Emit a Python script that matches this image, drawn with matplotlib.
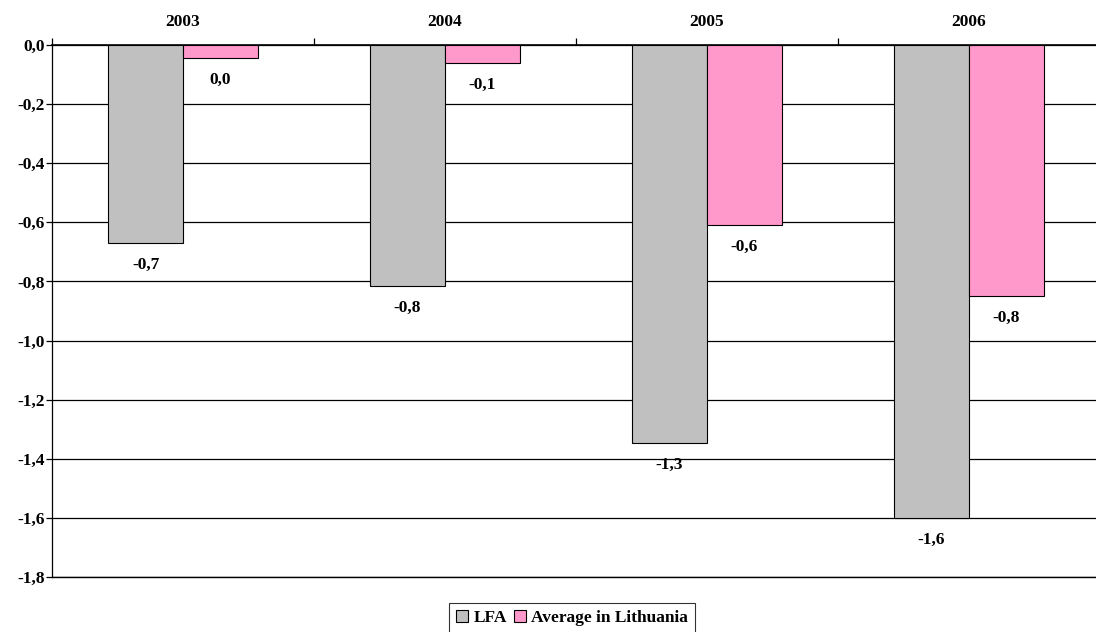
import numpy as np
import matplotlib
matplotlib.use("Agg")
import matplotlib.pyplot as plt
from matplotlib.ticker import FixedLocator, FuncFormatter

years = ["2003", "2004", "2005", "2006"]
lfa = [-0.67, -0.815, -1.348, -1.60]
lithuania = [-0.044, -0.061, -0.609, -0.849]
series_names = ["LFA", "Average in Lithuania"]
y_ticks = [0.0, -0.2, -0.4, -0.6, -0.8, -1.0, -1.2, -1.4, -1.6, -1.8]

plt.rcParams['font.family'] = ['Liberation Serif', 'DejaVu Serif']
plt.rcParams['font.weight'] = 'bold'
FS = 12.5


def fmt(v):
    r = round(v, 1)
    if r == 0:
        r = 0.0
    return ("%.1f" % r).replace(".", ",")


fig = plt.figure(figsize=(10.96, 6.32), dpi=100)
ax = fig.add_axes([52 / 1096, 55 / 632, 1048 / 1096, 532 / 632])

x = np.arange(len(years))
w = 0.286
b1 = ax.bar(x - w / 2, lfa, w, color="#C0C0C0", edgecolor="black", linewidth=0.8,
            label=series_names[0], zorder=3)
b2 = ax.bar(x + w / 2, lithuania, w, color="#FF99CC", edgecolor="black", linewidth=0.8,
            label=series_names[1], zorder=3)

for bars, vals in [(b1, lfa), (b2, lithuania)]:
    for rect, v in zip(bars, vals):
        ax.annotate(fmt(v), (rect.get_x() + rect.get_width() / 2, v),
                    xytext=(0, -10), textcoords="offset points",
                    ha="center", va="top", fontsize=FS, fontweight="bold")

ax.set_xlim(-0.5, len(years) - 0.5)
ax.set_ylim(-1.8, 0.0)

# y axis
ax.set_yticks(y_ticks)
ax.yaxis.set_major_formatter(FuncFormatter(lambda v, p: fmt(v)))
ax.grid(axis="y", color="black", linewidth=0.9, zorder=0)
ax.tick_params(axis="y", direction="out", length=4, width=0.9, labelsize=FS, pad=1)

# category axis on top, at zero
ax.xaxis.tick_top()
ax.set_xticks(x)
ax.set_xticklabels(years, fontsize=FS, fontweight="bold")
ax.xaxis.set_minor_locator(FixedLocator(np.arange(-0.5, len(years), 1.0)))
ax.tick_params(axis="x", which="major", length=0, pad=11)
ax.tick_params(axis="x", which="minor", direction="out", length=5, width=0.9, top=True)

ax.spines["right"].set_visible(False)
ax.spines["bottom"].set_linewidth(1.0)
ax.spines["top"].set_linewidth(1.2)
ax.spines["top"].set_zorder(4)
ax.spines["left"].set_linewidth(0.9)

for lab in ax.get_yticklabels() + ax.get_xticklabels():
    lab.set_fontweight("bold")

leg = fig.legend(loc="upper center", bbox_to_anchor=(572 / 1096, 1 - 603 / 632),
                 ncol=2, frameon=True, fancybox=False, edgecolor="black",
                 fontsize=FS, handlelength=0.7, handleheight=0.7,
                 handletextpad=0.3, columnspacing=0.4, borderpad=0.4,
                 borderaxespad=0)
leg.get_frame().set_linewidth(0.8)
for t in leg.get_texts():
    t.set_fontweight("bold")

fig.savefig("out.png", dpi=100)
